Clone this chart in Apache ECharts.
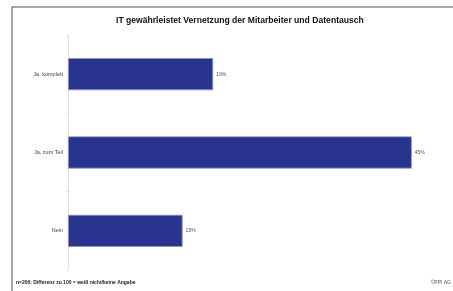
<!DOCTYPE html>
<html>
<head>
<meta charset="utf-8">
<script src="https://cdn.jsdelivr.net/npm/echarts@6/dist/echarts.min.js"></script>
<style>
  html, body { margin: 0; padding: 0; background: #fff; }
  #chart { width: 453px; height: 291px; }
</style>
</head>
<body>
<div id="chart"></div>
<script>
// Daten
var categories = ['Ja, komplett', 'Ja, zum Teil', 'Nein'];
var values = [19, 45, 15];
var titleText = 'IT gewährleistet Vernetzung der Mitarbeiter und Datentausch';
var footnote = 'n=206: Differenz zu 100 = weiß nicht/keine Angabe';
var sourceText = '©PPI AG';

var chart = echarts.init(document.getElementById('chart'));
var option = {
  animation: false,
  backgroundColor: '#fff',
  title: {
    text: titleText,
    left: 111,
    top: 11,
    textStyle: { fontFamily: 'Liberation Sans', fontSize: 8.6, fontWeight: 'bold', color: '#111' }
  },
  graphic: [
    // Rahmen (rechts und unten ausserhalb des Bildes)
    { type: 'rect', shape: { x: 12, y: 7, width: 520, height: 340 },
      style: { fill: 'none', stroke: '#8a8a8a', lineWidth: 1.5 } },
    { type: 'text', left: 16, top: 280,
      style: { text: footnote, font: 'bold 5px Liberation Sans', fill: '#222' } },
    { type: 'text', right: 2, top: 280,
      style: { text: sourceText, font: '5px Liberation Sans', fill: '#555' } }
  ],
  grid: { left: 68, top: 35, bottom: 21, right: 3 },
  xAxis: {
    type: 'value',
    min: 0,
    max: 50,
    show: false
  },
  yAxis: {
    type: 'category',
    inverse: true,
    data: categories,
    axisLine: { lineStyle: { color: '#e2e2e2', width: 1 } },
    axisTick: { show: true, length: 2, lineStyle: { color: '#e2e2e2' } },
    axisLabel: { fontFamily: 'Liberation Sans', fontSize: 5.5, color: '#444', margin: 5 }
  },
  series: [{
    type: 'bar',
    data: values,
    barCategoryGap: '59%',
    itemStyle: { color: '#29348f', borderColor: '#8f96d0', borderWidth: 0.8 },
    label: {
      show: true,
      position: 'right',
      distance: 3,
      formatter: '{c}%',
      fontFamily: 'Liberation Sans',
      fontSize: 5,
      color: '#555'
    }
  }]
};
chart.setOption(option);
</script>
</body>
</html>
